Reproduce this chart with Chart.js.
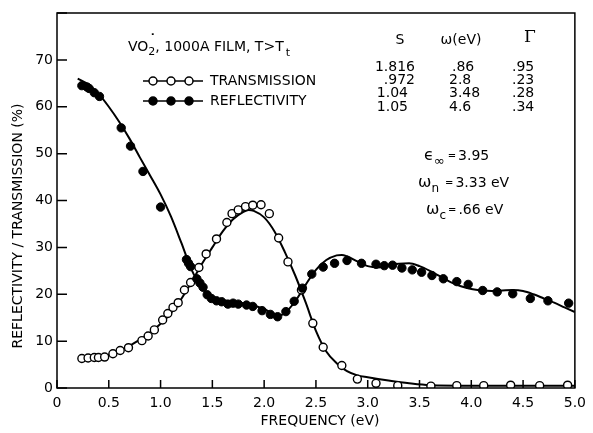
<!DOCTYPE html>
<html>
<head>
<meta charset="utf-8">
<script src="https://cdn.jsdelivr.net/npm/chart.js@4.4.0/dist/chart.umd.min.js"></script>
<style>
  body { margin: 0; background: #fff; }
</style>
</head>
<body>
<canvas id="chart" width="593" height="433"></canvas>
<script>
// measured reflectivity (filled circles)
const reflX = [0.24, 0.29, 0.31, 0.36, 0.41, 0.62, 0.71, 0.83, 1.0, 1.25, 1.27, 1.29, 1.35, 1.38, 1.41, 1.45, 1.49, 1.54, 1.59, 1.65, 1.70, 1.75, 1.83, 1.89, 1.98, 2.06, 2.13, 2.21, 2.29, 2.37, 2.46, 2.57, 2.68, 2.80, 2.94, 3.08, 3.16, 3.24, 3.33, 3.43, 3.52, 3.62, 3.73, 3.86, 3.97, 4.11, 4.25, 4.40, 4.57, 4.74, 4.94];
const reflY = [64.5, 64.2, 63.9, 63.0, 62.2, 55.5, 51.6, 46.2, 38.6, 27.4, 26.6, 25.9, 23.3, 22.4, 21.5, 19.9, 19.1, 18.6, 18.4, 17.9, 18.1, 17.9, 17.7, 17.4, 16.5, 15.7, 15.2, 16.3, 18.5, 21.3, 24.3, 25.8, 26.6, 27.2, 26.6, 26.4, 26.1, 26.2, 25.6, 25.2, 24.7, 24.0, 23.3, 22.7, 22.1, 20.8, 20.5, 20.1, 19.1, 18.6, 18.1];

// measured transmission (open circles)
const transX = [0.24, 0.30, 0.36, 0.40, 0.46, 0.54, 0.61, 0.69, 0.82, 0.88, 0.94, 1.02, 1.07, 1.12, 1.17, 1.23, 1.29, 1.37, 1.44, 1.54, 1.64, 1.69, 1.75, 1.82, 1.89, 1.97, 2.05, 2.14, 2.23, 2.36, 2.47, 2.57, 2.75, 2.90, 3.08, 3.29, 3.61, 3.86, 4.12, 4.38, 4.66, 4.93];
const transY = [6.3, 6.4, 6.5, 6.5, 6.6, 7.3, 8.0, 8.6, 10.1, 11.1, 12.4, 14.5, 15.9, 17.2, 18.2, 20.9, 22.5, 25.7, 28.6, 31.8, 35.3, 37.2, 38.0, 38.7, 39.0, 39.1, 37.2, 32.0, 26.9, 20.9, 13.8, 8.7, 4.8, 1.9, 1.0, 0.5, 0.4, 0.5, 0.5, 0.6, 0.5, 0.6];

// fitted curves (solid lines)
const reflFitX = [0.2, 0.3, 0.4, 0.5, 0.6, 0.7, 0.8, 0.9, 1.0, 1.1, 1.2, 1.3, 1.4, 1.5, 1.6, 1.7, 1.8, 1.9, 2.0, 2.1, 2.15, 2.2, 2.3, 2.4, 2.5, 2.6, 2.7, 2.75, 2.8, 2.9, 3.0, 3.1, 3.2, 3.3, 3.4, 3.5, 3.6, 3.7, 3.8, 3.9, 4.0, 4.1, 4.2, 4.3, 4.4, 4.5, 4.6, 4.7, 4.8, 4.9, 5.0];
const reflFitY = [66.0, 64.8, 62.8, 60.0, 56.8, 53.2, 49.2, 45.3, 41.3, 36.6, 31.0, 25.2, 21.3, 19.5, 18.7, 18.4, 18.1, 17.6, 16.8, 15.8, 15.5, 16.0, 18.5, 22.0, 25.2, 27.3, 28.3, 28.4, 28.1, 27.0, 26.0, 25.7, 26.2, 26.5, 26.6, 26.0, 25.0, 23.8, 22.6, 21.7, 21.1, 20.8, 20.7, 20.8, 20.9, 20.7, 20.0, 19.1, 18.2, 17.2, 16.2];
const transFitX = [0.25, 0.3, 0.4, 0.5, 0.6, 0.7, 0.8, 0.9, 1.0, 1.1, 1.2, 1.3, 1.4, 1.5, 1.6, 1.7, 1.8, 1.85, 1.9, 2.0, 2.1, 2.2, 2.3, 2.4, 2.5, 2.6, 2.7, 2.8, 2.9, 3.0, 3.2, 3.4, 3.6, 4.0, 4.5, 5.0];
const transFitY = [6.0, 6.1, 6.5, 7.1, 7.9, 9.0, 10.3, 11.8, 13.7, 16.0, 19.0, 22.6, 26.5, 30.0, 33.4, 36.0, 37.6, 38.0, 37.8, 36.4, 33.4, 29.0, 24.0, 18.3, 12.2, 7.8, 5.3, 3.6, 2.7, 2.3, 1.6, 1.0, 0.6, 0.5, 0.5, 0.5];

const FONT = '"DejaVu Sans", sans-serif';

function toPoints(xs, ys) {
  return xs.map((x, i) => ({ x: x, y: ys[i] }));
}

// draws text pieces with subscripts, returns end x
function drawParts(ctx, x, y, parts) {
  parts.forEach(p => {
    ctx.font = (p.size || 14) + 'px ' + FONT;
    ctx.fillText(p.t, x, y + (p.dy || 0));
    x += ctx.measureText(p.t).width + (p.gap || 0);
  });
  return x;
}

const decor = {
  id: 'decor',
  afterDraw(chart) {
    const ctx = chart.ctx;
    const a = chart.chartArea;
    const xs = chart.scales.x, ys = chart.scales.y;
    ctx.save();
    ctx.strokeStyle = '#000';
    ctx.fillStyle = '#000';
    ctx.lineWidth = 1.5;
    ctx.strokeRect(a.left, a.top, a.right - a.left, a.bottom - a.top);

    // ticks point inward
    ctx.beginPath();
    xs.ticks.forEach(t => {
      const px = xs.getPixelForValue(t.value);
      ctx.moveTo(px, a.bottom);
      ctx.lineTo(px, a.bottom - 8);
    });
    ys.ticks.forEach(t => {
      const py = ys.getPixelForValue(t.value);
      ctx.moveTo(a.left, py);
      ctx.lineTo(a.left + 10, py);
    });
    ctx.stroke();

    // axis titles
    ctx.textBaseline = 'middle';
    ctx.textAlign = 'center';
    ctx.font = '14px ' + FONT;
    ctx.fillText('FREQUENCY (eV)', 320, 421);
    ctx.save();
    ctx.translate(18, 226);
    ctx.rotate(-Math.PI / 2);
    ctx.fillText('REFLECTIVITY / TRANSMISSION (%)', 0, 0);
    ctx.restore();

    // header text
    ctx.textAlign = 'left';
    let x = drawParts(ctx, 128, 47, [{ t: 'VO' }]);
    ctx.font = 'bold 14px ' + FONT;
    ctx.fillText('\u02D9', x + 1, 40);
    x = drawParts(ctx, x, 47, [{ t: '2', size: 11, dy: 5 }, { t: ', 1000A FILM, T>T' }]);
    drawParts(ctx, x + 2, 47, [{ t: 't', size: 11, dy: 6 }]);

    // legend
    const legendRows = [
      { y: 81, label: 'TRANSMISSION', filled: false },
      { y: 101, label: 'REFLECTIVITY', filled: true }
    ];
    legendRows.forEach(r => {
      ctx.lineWidth = 1.5;
      ctx.beginPath();
      ctx.moveTo(143, r.y);
      ctx.lineTo(203, r.y);
      ctx.stroke();
      [153, 171, 189].forEach(cx => {
        ctx.beginPath();
        ctx.arc(cx, r.y, 4, 0, Math.PI * 2);
        ctx.fillStyle = r.filled ? '#000' : '#fff';
        ctx.fill();
        ctx.stroke();
      });
      ctx.fillStyle = '#000';
      ctx.font = '14px ' + FONT;
      ctx.fillText(r.label, 210, r.y);
    });

    // fit parameter table
    ctx.font = '14px ' + FONT;
    ctx.textAlign = 'center';
    ctx.fillText('S', 400, 40);
    ctx.fillText('\u03C9(eV)', 461, 40);
    ctx.font = '17px "DejaVu Serif", serif';
    ctx.fillText('\u0393', 530, 38);
    ctx.font = '14px ' + FONT;
    ctx.textAlign = 'left';
    const tableRows = [
      ['1.816', '.86', '.95'],
      ['.972', '2.8', '.23'],
      ['1.04', '3.48', '.28'],
      ['1.05', '4.6', '.34']
    ];
    tableRows.forEach((row, i) => {
      const ry = 67 + i * 13.3;
      ctx.textAlign = 'right';
      ctx.fillText(row[0], i < 2 ? 415 : 408, ry);
      ctx.textAlign = 'left';
      ctx.fillText(row[1], row[1].startsWith('.') ? 452 : 449, ry);
      ctx.fillText(row[2], 512, ry);
    });

    // constants
    x = drawParts(ctx, 424, 156, [{ t: '\u03F5', size: 16 }, { t: '\u221E', size: 13, dy: 6, gap: 3 }]);
    drawParts(ctx, x, 156, [{ t: '=', size: 10, gap: 2 }, { t: '3.95' }]);
    x = drawParts(ctx, 418, 183, [{ t: '\u03C9', size: 16 }, { t: 'n', size: 12, dy: 6, gap: 6 }]);
    drawParts(ctx, x, 183, [{ t: '=', size: 10, gap: 2 }, { t: '3.33 eV' }]);
    x = drawParts(ctx, 426, 210, [{ t: '\u03C9', size: 16 }, { t: 'c', size: 12, dy: 6, gap: 2 }]);
    drawParts(ctx, x, 210, [{ t: '=', size: 10, gap: 2 }, { t: '.66 eV' }]);

    ctx.restore();
  }
};

new Chart(document.getElementById('chart'), {
  type: 'scatter',
  data: {
    datasets: [
      {
        label: 'Reflectivity',
        data: toPoints(reflX, reflY),
        pointRadius: 4.2,
        pointBackgroundColor: '#000',
        pointBorderColor: '#000',
        pointBorderWidth: 1
      },
      {
        label: 'Transmission',
        data: toPoints(transX, transY),
        pointRadius: 4,
        pointBackgroundColor: '#fff',
        pointBorderColor: '#000',
        pointBorderWidth: 1.4
      },
      {
        label: 'Reflectivity fit',
        data: toPoints(reflFitX, reflFitY),
        showLine: true,
        cubicInterpolationMode: 'monotone',
        borderColor: '#000',
        borderWidth: 2,
        pointRadius: 0
      },
      {
        label: 'Transmission fit',
        data: toPoints(transFitX, transFitY),
        showLine: true,
        cubicInterpolationMode: 'monotone',
        borderColor: '#000',
        borderWidth: 2,
        pointRadius: 0
      }
    ]
  },
  options: {
    responsive: false,
    animation: false,
    layout: { padding: { top: 13, right: 12, left: 0, bottom: 0 } },
    plugins: {
      legend: { display: false },
      tooltip: { enabled: false }
    },
    scales: {
      x: {
        type: 'linear',
        min: 0,
        max: 5,
        grid: { display: false, drawTicks: false },
        border: { display: false },
        afterFit: s => { s.height = 45; },
        ticks: {
          stepSize: 0.5,
          padding: 7,
          color: '#000',
          font: { family: FONT, size: 14 },
          callback: v => v === 0 ? '0' : v.toFixed(1)
        }
      },
      y: {
        min: 0,
        max: 80,
        grid: { display: false, drawTicks: false },
        border: { display: false },
        afterFit: s => { s.width = 57; },
        ticks: {
          stepSize: 10,
          padding: 4,
          color: '#000',
          font: { family: FONT, size: 14 },
          callback: v => v === 80 ? '' : v
        }
      }
    }
  },
  plugins: [decor]
});
</script>
</body>
</html>
